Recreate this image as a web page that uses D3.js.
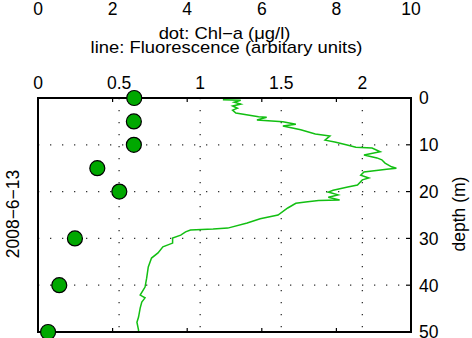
<!DOCTYPE html>
<head>
    <meta charset="utf-8">
    <script src="https://d3js.org/d3.v7.min.js"></script>
</head>
<body style="background: white; margin: 0">
    <div id="my_dataviz"></div>
    <script>
        // Chl-a samples (dots, top axis 0-10)
        var chlDepth = [0, 5, 10, 15, 20, 30, 40, 50];
        var chlValue = [2.58, 2.57, 2.57, 1.59, 2.18, 0.99, 0.57, 0.27];

        // fluorescence profile (line, axis 0-2.3)
        var fluDepth = [0.4, 0.5, 0.9, 1.3, 1.7, 2.2, 2.6, 3.2, 4.0, 4.1, 4.7, 5.1, 5.6, 6.0, 6.8, 7.7, 8.1, 9.0, 9.4, 10.0,
            10.5, 10.7, 11.5, 12.2, 12.8, 13.2, 13.9, 14.7, 15.0, 15.2, 15.8, 16.5, 17.1, 17.5, 18.6, 19.0, 19.7, 20.1, 20.7, 21.2,
            21.8, 21.9, 22.2, 22.5, 23.5, 25.0, 25.8, 26.7, 27.8, 28.0, 28.2, 28.6, 29.3, 29.9, 31.0, 31.8, 33.1, 34.2, 36.1, 38.5,
            40.4, 42.1, 42.7, 43.6, 44.9, 46.8, 47.9, 49.6, 50];
        var fluValue = [1.14, 1.25, 1.21, 1.25, 1.20, 1.23, 1.20, 1.22, 1.36, 1.41, 1.35, 1.51, 1.59, 1.51, 1.62, 1.71, 1.80, 1.77, 1.83, 1.90,
            1.96, 2.06, 2.11, 2.01, 2.09, 2.12, 2.14, 2.18, 2.21, 2.15, 2.01, 1.99, 2.04, 2.00, 1.97, 1.91, 1.82, 1.79, 1.85, 1.79,
            1.86, 1.73, 1.65, 1.59, 1.54, 1.48, 1.37, 1.29, 1.17, 1.08, 0.94, 0.91, 0.88, 0.83, 0.83, 0.77, 0.74, 0.70, 0.68, 0.67,
            0.66, 0.63, 0.66, 0.64, 0.63, 0.62, 0.61, 0.62, 0.62];

        var chlTicks = [0, 2, 4, 6, 8, 10];
        var fluTicks = [0, 0.5, 1, 1.5, 2];
        var depthTicks = [0, 10, 20, 30, 40, 50];

        var W = 472, H = 338;
        var margin = { top: 98, right: 61, bottom: 6, left: 38 },
            width = W - margin.left - margin.right,
            height = H - margin.top - margin.bottom;

        var svg = d3.select("#my_dataviz")
            .append("svg")
            .attr("width", W)
            .attr("height", H)
            .style("font-family", "'Liberation Sans', Arial, sans-serif");

        var g = svg.append("g")
            .attr("transform", "translate(" + margin.left + "," + margin.top + ")");

        var xFlu = d3.scaleLinear().domain([0, 2.3]).range([0, width]);
        var xChl = d3.scaleLinear().domain([0, 10]).range([0, width]);
        var y = d3.scaleLinear().domain([0, 50]).range([0, height]);

        // dotted grid
        g.selectAll(".vgrid")
            .data(fluTicks.filter(d => d > 0))
            .enter().append("line")
            .attr("x1", d => xFlu(d)).attr("x2", d => xFlu(d))
            .attr("y1", 0).attr("y2", height)
            .attr("stroke", "#333").attr("stroke-width", 1.3)
            .attr("stroke-dasharray", "1.3,10.7");
        g.selectAll(".hgrid")
            .data(depthTicks.filter(d => d > 0 && d < 50))
            .enter().append("line")
            .attr("x1", 0).attr("x2", width)
            .attr("y1", d => y(d)).attr("y2", d => y(d))
            .attr("stroke", "#333").attr("stroke-width", 1.3)
            .attr("stroke-dasharray", "1.3,10.7");

        // inward ticks of chl axis on top and bottom
        var innerChl = chlTicks.filter(d => d > 0 && d < 10);
        g.selectAll(".tt").data(innerChl).enter().append("line")
            .attr("x1", d => xChl(d)).attr("x2", d => xChl(d))
            .attr("y1", 0).attr("y2", 4).attr("stroke", "black").attr("stroke-width", 1.2);
        g.selectAll(".bt").data(innerChl).enter().append("line")
            .attr("x1", d => xChl(d)).attr("x2", d => xChl(d))
            .attr("y1", height).attr("y2", height - 4).attr("stroke", "black").attr("stroke-width", 1.2);
        g.selectAll(".rt").data(depthTicks.filter(d => d > 0 && d < 50)).enter().append("line")
            .attr("x1", width).attr("x2", width - 5)
            .attr("y1", d => y(d)).attr("y2", d => y(d)).attr("stroke", "black").attr("stroke-width", 1.2);

        // fluorescence line
        var line = d3.line()
            .x((d, i) => xFlu(fluValue[i]))
            .y(d => y(d));
        g.append("path")
            .datum(fluDepth)
            .attr("d", line)
            .attr("fill", "none")
            .attr("stroke", "#12bf12")
            .attr("stroke-width", 1.5);

        // box
        g.append("rect")
            .attr("x", 0).attr("y", 0)
            .attr("width", width).attr("height", height)
            .attr("fill", "none").attr("stroke", "black").attr("stroke-width", 2);

        // chl dots
        g.selectAll(".dot")
            .data(chlDepth)
            .enter().append("circle")
            .attr("cx", (d, i) => xChl(chlValue[i]))
            .attr("cy", d => y(d))
            .attr("r", 7.5)
            .attr("fill", "#00a800")
            .attr("stroke", "black")
            .attr("stroke-width", 1.2);

        // tick labels
        svg.selectAll(".chlLab").data(chlTicks).enter().append("text")
            .attr("x", d => margin.left + xChl(d)).attr("y", 15)
            .attr("text-anchor", "middle").attr("font-size", 17.5)
            .text(d => d);
        svg.selectAll(".fluLab").data(fluTicks).enter().append("text")
            .attr("x", d => margin.left + xFlu(d)).attr("y", 89)
            .attr("text-anchor", "middle").attr("font-size", 17.5)
            .text(d => d);
        svg.selectAll(".depLab").data(depthTicks).enter().append("text")
            .attr("x", margin.left + width + 8).attr("y", d => margin.top + y(d))
            .attr("dy", "0.36em").attr("font-size", 17.5)
            .text(d => d);

        // titles (slightly widened like the original rendering)
        var cx = margin.left + width / 2;
        svg.append("text")
            .attr("transform", "translate(" + cx + ",39) scale(1.15,1)")
            .attr("text-anchor", "middle")
            .attr("font-size", 16).text("dot: Chl\u2212a (\u03bcg/l)");
        svg.append("text")
            .attr("transform", "translate(" + (cx + 2) + ",53) scale(1.15,1)")
            .attr("text-anchor", "middle")
            .attr("font-size", 16).text("line: Fluorescence (arbitary units)");

        svg.append("text")
            .attr("transform", "translate(19," + 214 + ") rotate(-90)")
            .attr("text-anchor", "middle").attr("font-size", 17.5)
            .text("2008\u22126\u221213");
        svg.append("text")
            .attr("transform", "translate(465," + 214 + ") rotate(-90)")
            .attr("text-anchor", "middle").attr("font-size", 17.5)
            .text("depth (m)");
    </script>
</body>
</html>
